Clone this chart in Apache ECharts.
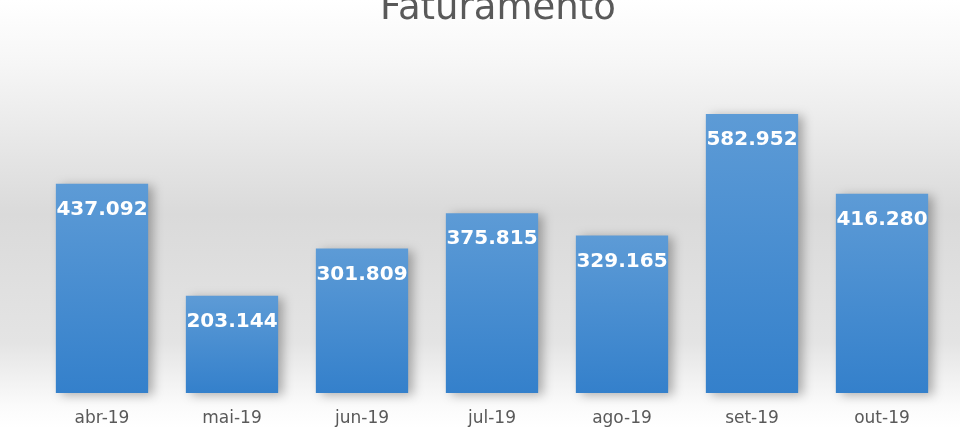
<!DOCTYPE html>
<html>
<head>
<meta charset="utf-8">
<script src="https://cdn.jsdelivr.net/npm/echarts@6/dist/echarts.min.js"></script>
<style>
  html, body { margin: 0; padding: 0; }
  #chart { width: 960px; height: 428px; }
</style>
</head>
<body>
<div id="chart"></div>
<script>
const categories = ['abr-19', 'mai-19', 'jun-19', 'jul-19', 'ago-19', 'set-19', 'out-19']
const faturamento = [437092, 203144, 301809, 375815, 329165, 582952, 416280]

// formato pt-BR: separador de milhar com ponto
const fmt = v => v.toLocaleString('pt-BR')

const chart = echarts.init(document.getElementById('chart'))

chart.setOption({
  animation: false,
  backgroundColor: {
    type: 'linear', x: 0, y: 0, x2: 0, y2: 1,
    colorStops: [
      { offset: 0, color: '#ffffff' },
      { offset: 0.15, color: '#f6f6f6' },
      { offset: 0.5, color: '#dadada' },
      { offset: 0.8, color: '#e4e4e4' },
      { offset: 0.95, color: '#fbfbfb' },
      { offset: 1, color: '#ffffff' }
    ]
  },
  title: {
    text: 'Faturamento',
    left: 375,
    top: -14,
    textStyle: {
      fontFamily: 'DejaVu Sans',
      fontSize: 37,
      fontWeight: 'normal',
      color: '#595959'
    }
  },
  grid: { left: 37, right: 13, top: 58, bottom: 35 },
  xAxis: {
    type: 'category',
    data: categories,
    axisLine: { show: false },
    axisTick: { show: false },
    axisLabel: {
      margin: 17,
      fontFamily: 'DejaVu Sans',
      fontSize: 17,
      color: '#595959'
    }
  },
  yAxis: {
    type: 'value',
    min: 0,
    max: 700000,
    show: false,
    splitLine: { show: false }
  },
  series: [{
    type: 'bar',
    data: faturamento,
    barWidth: '71%',
    itemStyle: {
      color: {
        type: 'linear', x: 0, y: 0, x2: 0, y2: 1,
        colorStops: [
          { offset: 0, color: '#5d9bd6' },
          { offset: 1, color: '#3480cb' }
        ]
      },
      shadowColor: 'rgba(0,0,0,0.3)',
      shadowBlur: 10,
      shadowOffsetX: 5,
      shadowOffsetY: 2
    },
    label: {
      show: true,
      position: 'insideTop',
      distance: 16,
      formatter: p => fmt(p.value),
      fontFamily: 'DejaVu Sans',
      fontWeight: 'bold',
      fontSize: 20,
      color: '#ffffff'
    }
  }]
})
</script>
</body>
</html>
